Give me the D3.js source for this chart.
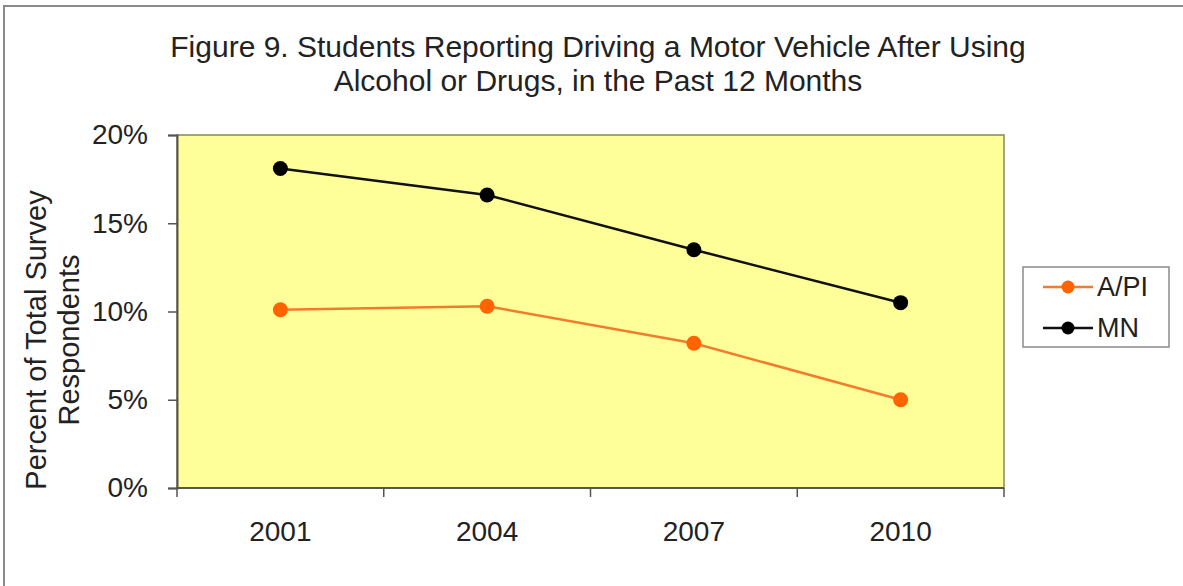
<!DOCTYPE html>
<html>
<head>
<meta charset="utf-8">
<script src="https://cdn.jsdelivr.net/npm/d3@7/dist/d3.min.js"></script>
<style>
  html, body { margin: 0; padding: 0; background: #ffffff; }
  svg { display: block; font-family: "Liberation Sans", Arial, sans-serif; }
</style>
</head>
<body>
<svg id="chart" width="1183" height="586"></svg>
<script>
// Survey years (categories)
const years = ["2001", "2004", "2007", "2010"];
// Percent of students reporting driving after using alcohol or drugs
const apiValues = [10.1, 10.3, 8.2, 5.0];
const mnValues = [18.1, 16.6, 13.5, 10.5];
// Y-axis ticks
const yTicks = [0, 5, 10, 15, 20];
const titleLines = [
  "Figure 9. Students Reporting Driving a Motor Vehicle After Using",
  "Alcohol or Drugs, in the Past 12 Months"
];
const yTitleLines = ["Percent of Total Survey", "Respondents"];

const series = [
  { name: "A/PI", values: apiValues, line: "#f27c2e", marker: "#ff6400" },
  { name: "MN", values: mnValues, line: "#111111", marker: "#000000" }
];

const svg = d3.select("#chart");
const plot = { left: 177, right: 1004, top: 135, bottom: 488 };

// Outer chart frame (runs off the right and bottom edges)
svg.append("rect")
  .attr("x", 4).attr("y", 6)
  .attr("width", 1200).attr("height", 600)
  .attr("fill", "#ffffff")
  .attr("stroke", "#8a8a8a").attr("stroke-width", 2);

const x = d3.scaleBand().domain(years).range([plot.left, plot.right]).padding(0);
const y = d3.scaleLinear().domain([0, 20]).range([plot.bottom, plot.top]);

// Plot area
svg.append("rect")
  .attr("x", plot.left).attr("y", plot.top)
  .attr("width", plot.right - plot.left).attr("height", plot.bottom - plot.top)
  .attr("fill", "#ffff99")
  .attr("stroke", "#86865e").attr("stroke-width", 1.5);

// Title
svg.append("text")
  .attr("x", 598).attr("y", 57)
  .attr("text-anchor", "middle")
  .attr("font-size", 30).attr("fill", "#222")
  .selectAll("tspan").data(titleLines).join("tspan")
  .attr("x", 598).attr("dy", (d, i) => i === 0 ? 0 : 34)
  .text(d => d);

// Y axis
const yAxis = svg.append("g")
  .attr("transform", `translate(${plot.left},0)`)
  .call(d3.axisLeft(y).tickValues(yTicks).tickSize(9).tickPadding(20).tickFormat(d => d + "%"));
yAxis.select(".domain").attr("stroke", "#555").attr("stroke-width", 2);
yAxis.selectAll(".tick line").attr("stroke", "#555").attr("stroke-width", 1.5);
yAxis.selectAll(".tick text")
  .attr("font-size", 28).attr("fill", "#222")
  .attr("font-family", "Liberation Sans, Arial, sans-serif");

// X axis: ticks on category boundaries, labels centred in each band
const xAxisG = svg.append("g").attr("transform", `translate(0,${plot.bottom})`);
xAxisG.append("line")
  .attr("x1", plot.left - 1).attr("x2", plot.right)
  .attr("stroke", "#555").attr("stroke-width", 2);
const bounds = years.map(d => x(d)).concat([x(years[years.length - 1]) + x.bandwidth()]);
xAxisG.selectAll("line.tick").data(bounds).join("line")
  .attr("class", "tick")
  .attr("x1", d => d).attr("x2", d => d)
  .attr("y1", 0).attr("y2", 9)
  .attr("stroke", "#555").attr("stroke-width", 1.5);
xAxisG.selectAll("text").data(years).join("text")
  .attr("x", d => x(d) + x.bandwidth() / 2)
  .attr("y", 53)
  .attr("text-anchor", "middle")
  .attr("font-size", 28).attr("fill", "#222")
  .text(d => d);

// Y-axis title (two rotated lines)
const yTitle = svg.append("text")
  .attr("transform", "translate(46,340) rotate(-90)")
  .attr("text-anchor", "middle")
  .attr("font-size", 29).attr("fill", "#222");
yTitle.selectAll("tspan").data(yTitleLines).join("tspan")
  .attr("x", 0).attr("dy", (d, i) => i === 0 ? 0 : 33)
  .text(d => d);

// Lines and markers
const line = d3.line()
  .x((d, i) => x(years[i]) + x.bandwidth() / 2)
  .y(d => y(d));

series.forEach(s => {
  svg.append("path")
    .datum(s.values)
    .attr("d", line)
    .attr("fill", "none")
    .attr("stroke", s.line)
    .attr("stroke-width", 2.5);
  svg.append("g").selectAll("circle").data(s.values).join("circle")
    .attr("cx", (d, i) => x(years[i]) + x.bandwidth() / 2)
    .attr("cy", d => y(d))
    .attr("r", 7.5)
    .attr("fill", s.marker);
});

// Legend
const legend = svg.append("g");
legend.append("rect")
  .attr("x", 1023).attr("y", 267)
  .attr("width", 146).attr("height", 80)
  .attr("fill", "#ffffff")
  .attr("stroke", "#8a8a8a").attr("stroke-width", 1.5);
series.forEach((s, i) => {
  const ly = 287 + i * 41;
  legend.append("line")
    .attr("x1", 1043).attr("x2", 1093)
    .attr("y1", ly).attr("y2", ly)
    .attr("stroke", s.line).attr("stroke-width", 2.5);
  legend.append("circle")
    .attr("cx", 1068).attr("cy", ly).attr("r", 6.5)
    .attr("fill", s.marker);
  legend.append("text")
    .attr("x", 1097).attr("y", ly)
    .attr("dy", "0.35em")
    .attr("font-size", 27).attr("fill", "#222")
    .text(s.name);
});
</script>
</body>
</html>
